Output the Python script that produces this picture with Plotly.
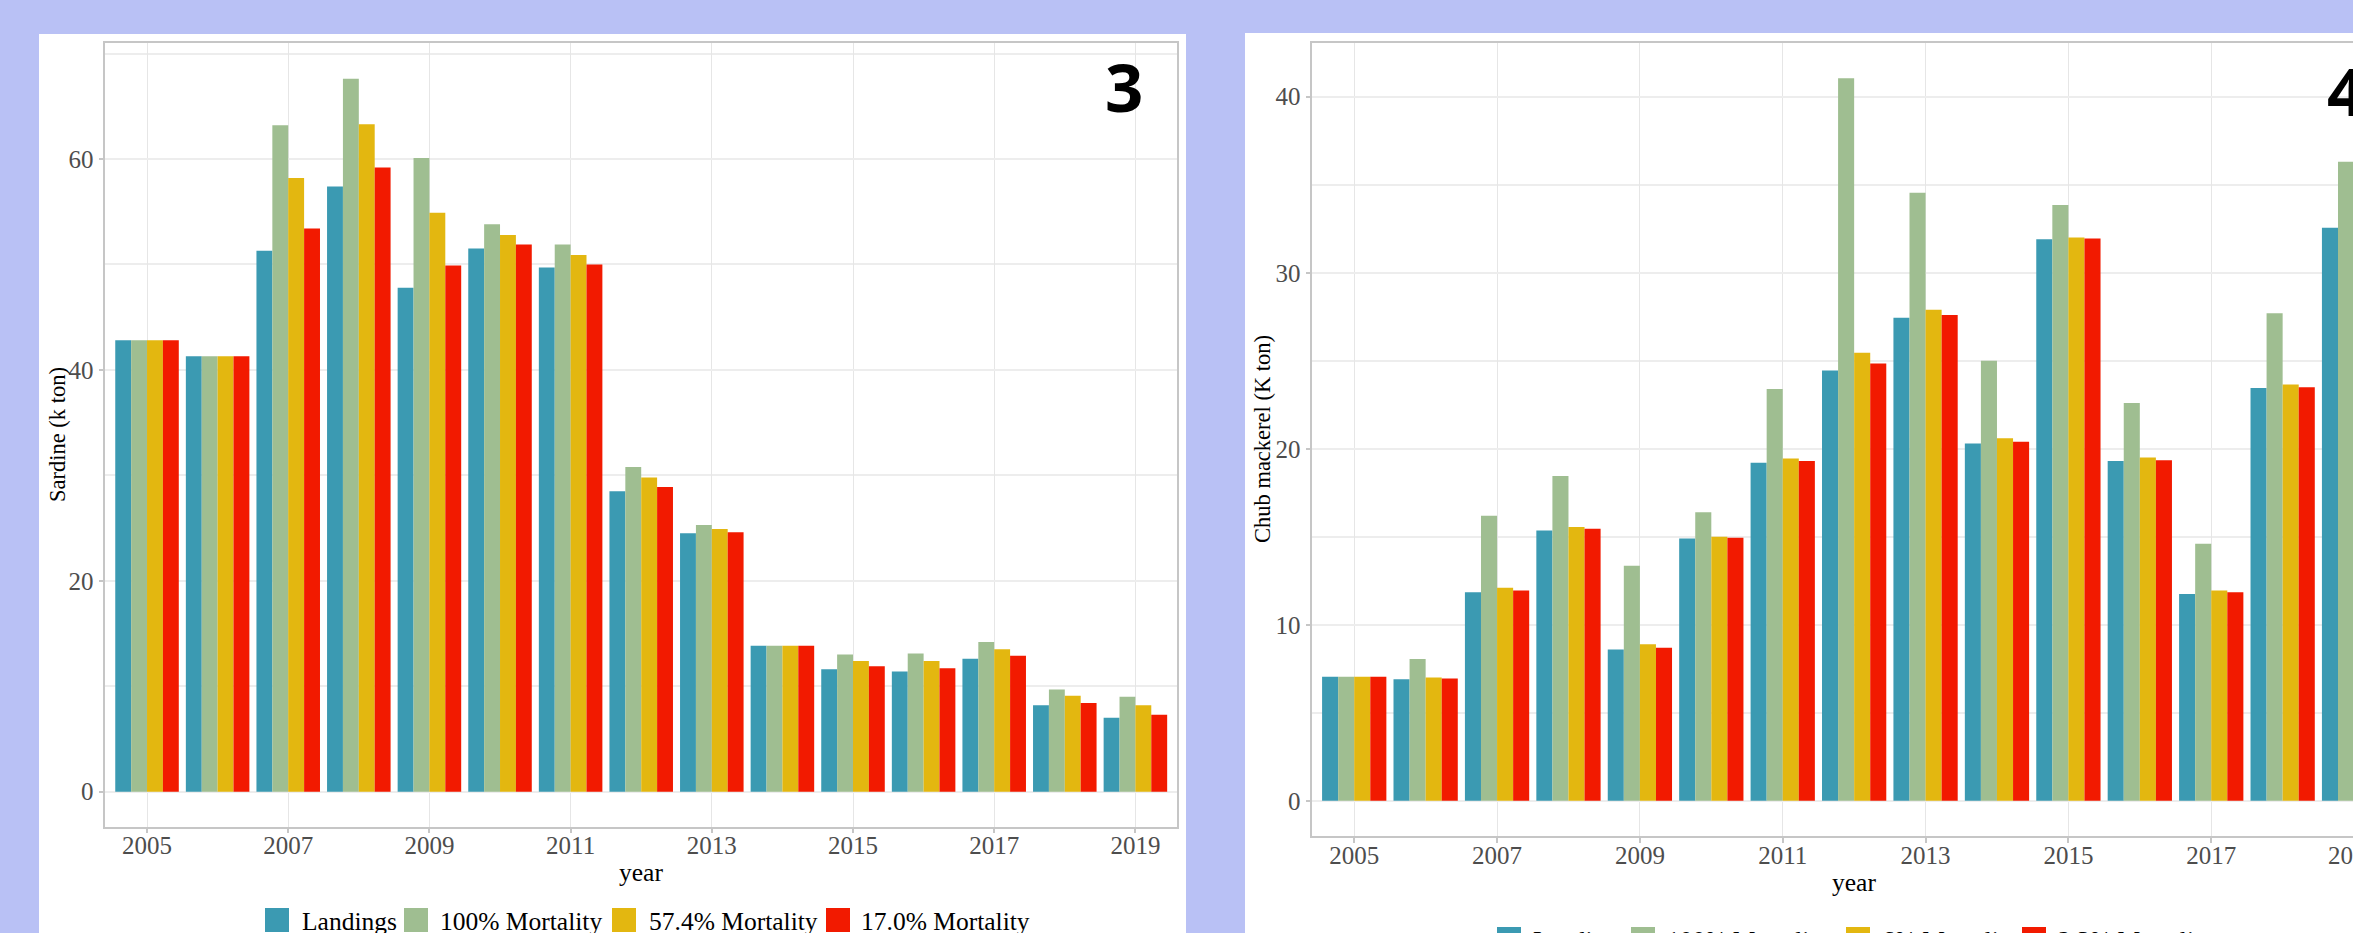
import plotly.graph_objects as go

W, H = 2353, 933

years = list(range(2005, 2020))
tick_years = list(range(2005, 2020, 2))

sardine_names = ["Landings", "100% Mortality", "57.4% Mortality", "17.0% Mortality"]
mackerel_names = ["Landings", "100% Mortality", "6% Mortality", "2.3% Mortality"]

sardine_landings = [42.8, 41.3, 51.3, 57.4, 47.8, 51.5, 49.7, 28.5, 24.5, 13.85, 11.6, 11.4, 12.6, 8.2, 7.0]
sardine_m100 = [42.8, 41.3, 63.2, 67.6, 60.1, 53.8, 51.9, 30.8, 25.3, 13.85, 13.0, 13.1, 14.2, 9.7, 9.0]
sardine_m574 = [42.8, 41.3, 58.2, 63.3, 54.9, 52.8, 50.9, 29.8, 24.9, 13.85, 12.4, 12.4, 13.5, 9.1, 8.2]
sardine_m170 = [42.8, 41.3, 53.4, 59.2, 49.9, 51.9, 50.0, 28.9, 24.6, 13.85, 11.9, 11.7, 12.9, 8.4, 7.3]

mackerel_landings = [7.05, 6.9, 11.85, 15.35, 8.6, 14.9, 19.2, 24.45, 27.45, 20.3, 31.9, 19.3, 11.75, 23.45, 32.55]
mackerel_m100 = [7.05, 8.05, 16.2, 18.45, 13.35, 16.4, 23.4, 41.05, 34.55, 25.0, 33.85, 22.6, 14.6, 27.7, 36.3]
mackerel_m6 = [7.05, 7.0, 12.1, 15.55, 8.9, 15.0, 19.45, 25.45, 27.9, 20.6, 32.0, 19.5, 11.95, 23.65, 32.8]
mackerel_m23 = [7.05, 6.95, 11.95, 15.45, 8.7, 14.95, 19.3, 24.85, 27.6, 20.4, 31.95, 19.35, 11.85, 23.5, 32.7]

colors = ["#3B9AB2", "#9FBE91", "#E3B710", "#F21A00"]
lavender = "#B9C1F5"
serif = "Liberation Serif"


def px(x):
    return x / W


def py(y):
    return 1 - y / H


fig = go.Figure()
for name, vals, c in zip(sardine_names, [sardine_landings, sardine_m100, sardine_m574, sardine_m170], colors):
    fig.add_trace(go.Bar(x=years, y=vals, name=name, marker=dict(color=c, line=dict(width=0)),
                         xaxis="x", yaxis="y", showlegend=False))
for name, vals, c in zip(mackerel_names, [mackerel_landings, mackerel_m100, mackerel_m6, mackerel_m23], colors):
    fig.add_trace(go.Bar(x=years, y=vals, name=name, marker=dict(color=c, line=dict(width=0)),
                         xaxis="x2", yaxis="y2", showlegend=False))

axis_line = "#C6C6C6"
grid_h = "#EDEDED"
grid_v = "#E6E6E6"
tickfont = dict(family=serif, size=25, color="#4D4D4D")

common_x = dict(tickmode="array", tickvals=tick_years, ticktext=[str(t) for t in tick_years],
                showgrid=True, gridcolor=grid_v, gridwidth=1, zeroline=False,
                showline=True, linecolor=axis_line, linewidth=1.5, mirror=True,
                ticks="outside", ticklen=5, tickwidth=1.5, tickcolor=axis_line,
                ticklabelstandoff=-9, tickfont=tickfont)
common_y = dict(showgrid=True, gridcolor=grid_h, gridwidth=1.5, zeroline=False,
                showline=True, linecolor=axis_line, linewidth=1.5,
                ticks="outside", ticklen=5, tickwidth=1.5, tickcolor=axis_line,
                tickfont=tickfont)

fig.update_layout(
    width=W, height=H,
    margin=dict(l=0, r=0, t=0, b=0),
    paper_bgcolor=lavender,
    plot_bgcolor="white",
    barmode="group", bargap=0.1, bargroupgap=0,
    xaxis=dict(domain=[px(105.3), px(1176.7)], range=[2004.409, 2019.585], anchor="y", **common_x),
    yaxis=dict(domain=[py(826.7), py(43.3)], range=[-3.32, 70.97], anchor="x",
               tickmode="linear", tick0=0, dtick=20, mirror=True,
               minor=dict(dtick=10, showgrid=True, gridcolor=grid_h, gridwidth=1.5, ticks=""),
               **common_y),
    xaxis2=dict(domain=[px(1312.3), 1.0], range=[2004.413, 2018.985], anchor="y2", **common_x),
    yaxis2=dict(domain=[py(836), py(42.7)], range=[-2.0, 43.07], anchor="x2",
                tickmode="linear", tick0=0, dtick=10, mirror=False,
                minor=dict(dtick=5, showgrid=True, gridcolor=grid_h, gridwidth=1.5, ticks=""),
                **common_y),
    showlegend=False,
)

shapes = [
    dict(type="rect", xref="paper", yref="paper", x0=px(39), x1=px(1186), y0=0, y1=py(34),
         fillcolor="white", line=dict(width=0), layer="below"),
    dict(type="rect", xref="paper", yref="paper", x0=px(1245), x1=1.0, y0=0, y1=py(33),
         fillcolor="white", line=dict(width=0), layer="below"),
]

annotations = [
    dict(text="3", xref="paper", yref="paper", x=px(1124), y=py(86), xanchor="center", yanchor="middle",
         showarrow=False, font=dict(family="Open Sans", size=67, color="black", weight="bold")),
    dict(text="4", xref="paper", yref="paper", x=px(2325), y=py(90), xanchor="left", yanchor="middle",
         showarrow=False, font=dict(family="Open Sans", size=67, color="black", weight="bold")),
    # partially visible 2019 tick label of the right panel (cut by the image edge)
    dict(text="2019", xref="paper", yref="paper", x=px(2353), y=py(855), xanchor="center", yanchor="middle",
         showarrow=False, font=tickfont),
    dict(text="year", xref="paper", yref="paper", x=px(641), y=py(872), xanchor="center", yanchor="middle",
         showarrow=False, font=dict(family=serif, size=25.5, color="black")),
    dict(text="year", xref="paper", yref="paper", x=px(1854), y=py(882), xanchor="center", yanchor="middle",
         showarrow=False, font=dict(family=serif, size=25.5, color="black")),
    dict(text="Sardine (k ton)", xref="paper", yref="paper", x=px(57), y=py(435), xanchor="center",
         yanchor="middle", textangle=-90, showarrow=False, font=dict(family=serif, size=22.5, color="black")),
    dict(text="Chub mackerel (K ton)", xref="paper", yref="paper", x=px(1262), y=py(439), xanchor="center",
         yanchor="middle", textangle=-90, showarrow=False, font=dict(family=serif, size=22.5, color="black")),
]

# manual legends (swatch + label)
legend_left = [(265, 300), (404, 438), (612, 647), (826, 859)]
legend_right = [(1497, 1531), (1631, 1665), (1846, 1880), (2022, 2056)]
for (sx, tx), name, c in zip(legend_left, sardine_names, colors):
    shapes.append(dict(type="rect", xref="paper", yref="paper", x0=px(sx), x1=px(sx + 24),
                       y0=py(932), y1=py(908), fillcolor=c, line=dict(width=0)))
    annotations.append(dict(text=name, xref="paper", yref="paper", x=px(tx), y=py(921), xanchor="left",
                            yanchor="middle", showarrow=False, font=dict(family=serif, size=25.5, color="black")))
for (sx, tx), name, c in zip(legend_right, mackerel_names, colors):
    shapes.append(dict(type="rect", xref="paper", yref="paper", x0=px(sx), x1=px(sx + 24),
                       y0=py(951), y1=py(927), fillcolor=c, line=dict(width=0)))
    annotations.append(dict(text=name, xref="paper", yref="paper", x=px(tx), y=py(940), xanchor="left",
                            yanchor="middle", showarrow=False, font=dict(family=serif, size=25.5, color="black")))

fig.update_layout(shapes=shapes, annotations=annotations)
fig.write_html("out.html")
